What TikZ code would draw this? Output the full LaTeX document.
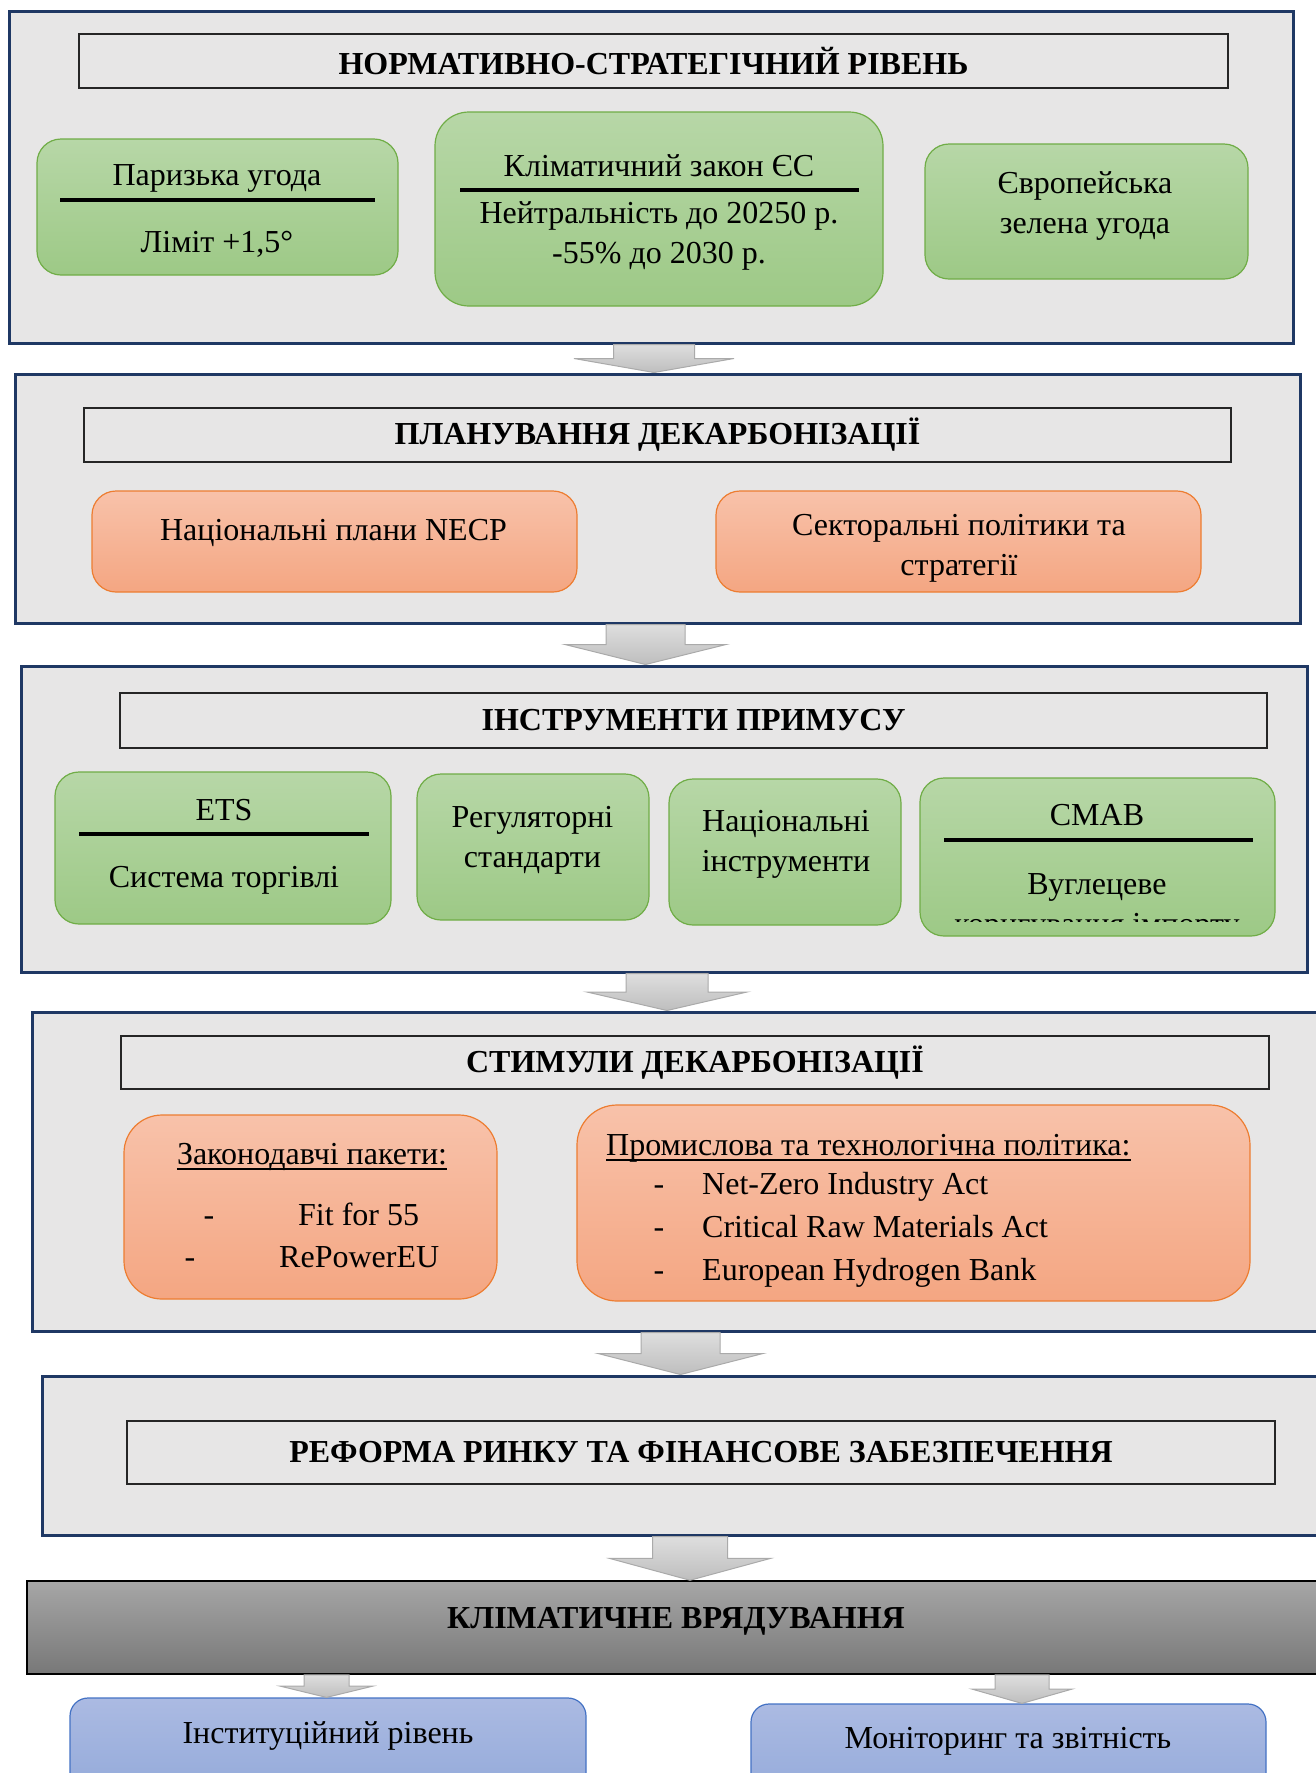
\documentclass[tikz,border=0pt]{standalone}
\usepackage{fontspec}
\setmainfont{Liberation Serif}
\usetikzlibrary{calc}

\definecolor{panelgray}{RGB}{231,230,230}
\definecolor{navyline}{RGB}{31,56,100}
\definecolor{greentop}{RGB}{183,215,167}
\definecolor{greenbot}{RGB}{157,201,134}
\definecolor{greenline}{RGB}{112,173,71}
\definecolor{orangetop}{RGB}{248,194,170}
\definecolor{orangebot}{RGB}{244,166,130}
\definecolor{orangeline}{RGB}{237,125,49}
\definecolor{bluetop}{RGB}{171,186,226}
\definecolor{bluebot}{RGB}{142,166,216}
\definecolor{blueline}{RGB}{68,114,196}
\definecolor{govtop}{RGB}{166,166,166}
\definecolor{govbot}{RGB}{120,120,120}
\definecolor{arrowtop}{RGB}{222,222,222}
\definecolor{arrowbot}{RGB}{190,190,190}
\definecolor{arrowline}{RGB}{170,170,170}

\newcommand{\diagfont}{\fontsize{32}{40}\selectfont}

\tikzset{%
  % Specifications for style of nodes:
        panel/.style = {rectangle, draw=navyline, line width=3pt, fill=panelgray},
     titlebox/.style = {rectangle, draw=black!85, line width=1.5pt, fill=panelgray,
                        font=\diagfont\bfseries},
         base/.style = {rectangle, rounded corners=24pt, line width=1.2pt, align=center},
     greenbox/.style = {base, draw=greenline, top color=greentop, bottom color=greenbot},
    orangebox/.style = {base, draw=orangeline, top color=orangetop, bottom color=orangebot},
      bluebox/.style = {base, rounded corners=18pt, draw=blueline, top color=bluetop, bottom color=bluebot},
       govbar/.style = {rectangle, draw=black, line width=1.5pt, top color=govtop, bottom color=govbot},
      oneline/.style = {inner sep=0pt, text height=21pt, text depth=1pt},
     twolines/.style = {inner sep=0pt, align=center},
      sepline/.style = {line width=4pt},
     arrowbox/.style = {draw=arrowline, line width=1pt, top color=arrowtop, bottom color=arrowbot},
}

% block arrow: from node, to node, x shift, half shaft, half head
\newcommand{\blockarrow}[5]{%
  \path[arrowbox] let \p1=(#1.south), \p2=(#2.north), \p3=($(#1.south)!0.5!(#2.north)$) in
    (\x2+#3pt-#4pt,\y1) -- (\x2+#3pt+#4pt,\y1) -- (\x2+#3pt+#4pt,\y3)
    -- (\x2+#3pt+#5pt,\y3) -- (\x2+#3pt,\y2) -- (\x2+#3pt-#5pt,\y3)
    -- (\x2+#3pt-#4pt,\y3) -- cycle;}

\begin{document}
\begin{tikzpicture}[x=1pt, y=-1pt, every node/.style={font=\diagfont}]
  \useasboundingbox (0,0) rectangle (1316,1773);
  \clip (0,0) rectangle (1316,1773);

  % Specification of panels (position, etc.)
  \node (normlevel)  [panel, minimum width=1284pt, minimum height=332pt] at (651,177) {};
  \node (planlevel)  [panel, minimum width=1285pt, minimum height=249pt] at (657.5,498.5) {};
  \node (enflevel)   [panel, minimum width=1286pt, minimum height=306pt] at (664,819) {};
  \node (stimlevel)  [panel, minimum width=1290pt, minimum height=319pt] at (677,1171.5) {};
  \node (reflevel)   [panel, minimum width=1290pt, minimum height=159pt] at (687,1455.5) {};
  \node (governance) [govbar, minimum width=1313pt, minimum height=93pt] at (683.5,1627.5) {};

  \node (normtitle) [titlebox, minimum width=1149pt, minimum height=54pt] at (653.5,61) {НОРМАТИВНО-СТРАТЕГІЧНИЙ РІВЕНЬ};
  \node (plantitle) [titlebox, minimum width=1147pt, minimum height=54pt] at (657.5,435) {ПЛАНУВАННЯ ДЕКАРБОНІЗАЦІЇ};
  \node (enftitle)  [titlebox, minimum width=1147pt, minimum height=55pt] at (693.5,720.5) {ІНСТРУМЕНТИ ПРИМУСУ};
  \node (stimtitle) [titlebox, minimum width=1148pt, minimum height=53pt] at (695,1062.5) {СТИМУЛИ ДЕКАРБОНІЗАЦІЇ};
  \node (reftitle)  [titlebox, minimum width=1148pt, minimum height=63pt] at (701,1452.5) {РЕФОРМА РИНКУ ТА ФІНАНСОВЕ ЗАБЕЗПЕЧЕННЯ};

  % normative level
  \node (paris)      [greenbox, minimum width=361pt, minimum height=136pt] at (217.5,207) {};
  \node (climatelaw) [greenbox, rounded corners=34pt, minimum width=448pt, minimum height=194pt] at (659,209) {};
  \node (greendeal)  [greenbox, minimum width=323pt, minimum height=135pt] at (1086.5,211.5) {};
  \node (paris-t) [oneline] at (217,175) {Паризька угода};
  \draw[sepline] (60,200) -- (375,200);
  \node (paris-b) [oneline] at (217,242) {Ліміт +1,5°};
  \node (climatelaw-t) [oneline] at (659,166) {Кліматичний закон ЄС};
  \draw[sepline] (460,190) -- (859,190);
  \node (climatelaw-b) [twolines] at (659,236) {Нейтральність до 20250 р.\\-55\% до 2030 р.};
  \node (greendeal-t) [twolines] at (1085,205.5) {Європейська\\зелена угода};

  % planning level
  \node (necp)     [orangebox, minimum width=485pt, minimum height=101pt] at (334.5,541.5) {};
  \node (sectoral) [orangebox, minimum width=485pt, minimum height=101pt] at (958.5,541.5) {};
  \node (necp-t) [oneline] at (333.5,530) {Національні плани NECP};
  \node (sectoral-t) [twolines] at (959,548.5) {Секторальні політики та\\стратегії};

  % enforcement level
  \node (ets)     [greenbox, minimum width=336pt, minimum height=152pt] at (223,848) {};
  \node (regstd)  [greenbox, minimum width=232pt, minimum height=146pt] at (533,847) {};
  \node (natinst) [greenbox, minimum width=232pt, minimum height=146pt] at (785,852) {};
  \node (cmab)    [greenbox, minimum width=355pt, minimum height=158pt] at (1097.5,857) {};
  \node (ets-t) [oneline] at (224,810) {ETS};
  \draw[sepline] (79,834) -- (369,834);
  \node (ets-b) [oneline] at (224,877) {Система торгівлі};
  \node (regstd-t) [twolines] at (532.5,840) {Регуляторні\\стандарти};
  \node (natinst-t) [twolines] at (786,844.5) {Національні\\інструменти};
  \node (cmab-t) [oneline] at (1097,815) {CMAB};
  \draw[sepline] (944,840) -- (1253,840);
  \node (cmab-b) [oneline] at (1097,884) {Вуглецеве};
  \begin{scope}
    \clip (920,800) rectangle (1275,921);
    \node (cmab-c) [oneline] at (1097,924) {коригування імпорту};
  \end{scope}

  % stimulus level
  \node (legpack)  [orangebox, rounded corners=38pt, minimum width=373pt, minimum height=184pt] at (310.5,1207) {};
  \node (induspol) [orangebox, rounded corners=40pt, minimum width=673pt, minimum height=196pt] at (913.5,1203) {};
  \node (legpack-h) [oneline] at (312,1154) {Законодавчі пакети:};
  \draw[line width=2pt] ([yshift=-5pt]legpack-h.base west) -- ([yshift=-5pt]legpack-h.base east);
  \node (legpack-d1) [oneline] at (209,1215) {-};
  \node (legpack-i1) [oneline, anchor=west] at (298,1215) {Fit for 55};
  \node (legpack-d2) [oneline] at (190,1257) {-};
  \node (legpack-i2) [oneline, anchor=west] at (279,1257) {RePowerEU};
  \node (induspol-h) [oneline, anchor=west] at (606,1145) {Промислова та технологічна політика:};
  \draw[line width=2pt] ([yshift=-5pt]induspol-h.base west) -- ([yshift=-5pt]induspol-h.base east);
  \foreach \y/\entry [count=\i] in {1184/Net-Zero Industry Act, 1227/Critical Raw Materials Act,
                                    1270/European Hydrogen Bank} {
    \node (induspol-d\i) [oneline] at (659,\y) {-};
    \node (induspol-i\i) [oneline, anchor=west] at (702,\y) {\entry};
  }

  % governance
  \node (governance-t) [oneline, font=\diagfont\bfseries] at (676,1618) {КЛІМАТИЧНЕ ВРЯДУВАННЯ};
  \node (inst)    [bluebox, minimum width=516pt, minimum height=120pt] at (328,1758) {};
  \node (monitor) [bluebox, minimum width=515pt, minimum height=120pt] at (1008.5,1764) {};
  \node (inst-t)    [oneline] at (328,1733) {Інституційний рівень};
  \node (monitor-t) [oneline] at (1008,1738) {Моніторинг та звітність};

  % block arrows
  \blockarrow{normlevel}{planlevel}{-3.5}{40.5}{80}
  \blockarrow{planlevel}{enflevel}{-18.5}{39.5}{80.5}
  \blockarrow{enflevel}{stimlevel}{-10}{41}{80}
  \blockarrow{stimlevel}{reflevel}{-6.5}{39.5}{82.5}
  \blockarrow{reflevel}{governance}{6.5}{37.5}{80.5}
  \blockarrow{governance}{inst}{-1.5}{22.5}{46.5}
  \blockarrow{governance}{monitor}{13.5}{27}{50}
\end{tikzpicture}
\end{document}
